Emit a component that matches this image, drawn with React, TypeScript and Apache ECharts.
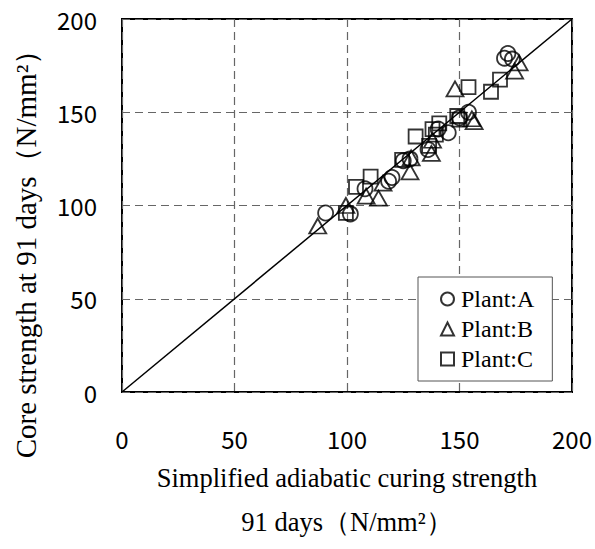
import React, { useEffect, useRef } from "react";
import * as echarts from "echarts";

// Plant A (circles): [simplified adiabatic curing strength, core strength]
const plantA: number[][] = [
  [90.5, 96], [101.5, 95.5], [108, 109], [118.5, 113], [120, 115],
  [125, 124], [128, 125], [136, 130], [140.5, 141], [145, 139],
  [150, 147], [154, 150], [170, 179], [171.5, 181.5], [173.5, 178.5],
];
// Plant B (triangles)
const plantB: number[][] = [
  [87, 89], [99.5, 100], [108.5, 105], [114, 104], [116, 112],
  [128, 118], [128.5, 125.5], [137.5, 128], [138, 135], [148, 162.5],
  [155.5, 146.5], [156.5, 145], [174.5, 172], [176.5, 176.5],
];
// Plant C (squares)
const plantC: number[][] = [
  [99.5, 96], [104, 110], [110.5, 115.5], [124.5, 124.5], [130.5, 137],
  [136.5, 132], [138, 141], [139.5, 138], [141, 144], [149, 148],
  [150, 146], [154, 163.5], [164, 161], [168, 167.5],
];
const equalityLine: number[][] = [[0, 0], [200, 200]];

const seriesNames = ["Plant:A", "Plant:B", "Plant:C"];
const xTitle = "Simplified adiabatic curing strength\n91 days（N/mm²）";
const yTitle = "Core strength at 91 days（N/mm²）";
const axisMin = 0;
const axisMax = 200;
const axisStep = 50;

const SERIF = "'Liberation Serif', 'Times New Roman', serif";
const SANS = "'Noto Sans CJK JP', 'Liberation Sans', sans-serif";

export default function App() {
  const ref = useRef<HTMLDivElement>(null);
  useEffect(() => {
    if (!ref.current) return;
    const chart = echarts.init(ref.current, undefined, { renderer: "svg" });
    const markerStyle = {
      color: "rgba(255,255,255,0)",
      borderColor: "#000",
      borderWidth: 1.8,
    };
    const splitLine = {
      show: true,
      lineStyle: { color: "#666", width: 1.2, type: [8, 5] as number[] },
    };
    chart.setOption({
      animation: false,
      backgroundColor: "#fff",
      grid: {
        left: 122,
        top: 19,
        right: 23,
        bottom: 149,
        show: true,
        borderColor: "#000",
        borderWidth: 2,
        backgroundColor: "transparent",
      },
      graphic: [
        {
          type: "text",
          x: 26,
          y: 247,
          rotation: Math.PI / 2,
          style: {
            text: yTitle,
            fontFamily: SERIF,
            fontSize: 29,
            fill: "#000",
            align: "center",
            verticalAlign: "middle",
          },
        },
      ],
      legend: {
        data: seriesNames,
        orient: "vertical",
        left: 418,
        top: 277,
        backgroundColor: "#fff",
        borderColor: "#555",
        borderWidth: 1,
        padding: [10, 18, 10, 22],
        itemGap: 6,
        itemWidth: 13,
        itemHeight: 13,
        textStyle: {
          fontFamily: SERIF,
          fontSize: 24,
          color: "#000",
          padding: [0, 0, 0, 2],
        },
      },
      xAxis: {
        type: "value",
        min: axisMin,
        max: axisMax,
        interval: axisStep,
        axisLine: { show: false },
        axisTick: { show: false },
        splitLine,
        axisLabel: {
          fontFamily: SANS,
          fontSize: 24,
          color: "#000",
          margin: 34,
        },
        name: xTitle,
        nameLocation: "middle",
        nameGap: 64,
        nameTextStyle: {
          fontFamily: SERIF,
          fontSize: 26.5,
          color: "#000",
          lineHeight: 44,
        },
      },
      yAxis: {
        type: "value",
        min: axisMin,
        max: axisMax,
        interval: axisStep,
        axisLine: { show: false },
        axisTick: { show: false },
        splitLine,
        axisLabel: {
          fontFamily: SANS,
          fontSize: 24,
          color: "#000",
          margin: 25,
        },
      },
      series: [
        {
          type: "line",
          data: equalityLine,
          symbol: "none",
          lineStyle: { color: "#000", width: 1.5 },
          silent: true,
          z: 1,
        },
        {
          name: seriesNames[0],
          type: "scatter",
          symbol: "circle",
          symbolSize: 15,
          data: plantA,
          itemStyle: markerStyle,
          z: 3,
        },
        {
          name: seriesNames[1],
          type: "scatter",
          symbol: "triangle",
          symbolSize: [17, 15],
          data: plantB,
          itemStyle: markerStyle,
          z: 3,
        },
        {
          name: seriesNames[2],
          type: "scatter",
          symbol: "rect",
          symbolSize: 14,
          data: plantC,
          itemStyle: markerStyle,
          z: 3,
        },
      ],
    });
    return () => chart.dispose();
  }, []);
  return (
    <div
      ref={ref}
      style={{ position: "absolute", left: 0, top: 0, width: 595, height: 549 }}
    />
  );
}
